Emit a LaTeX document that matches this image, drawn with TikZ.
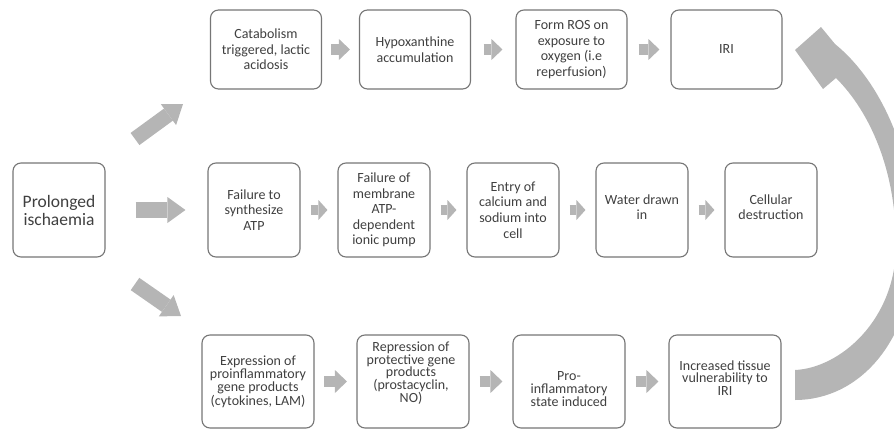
\documentclass[tikz,border=0pt]{standalone}
\usepackage{fontspec}
\setmainfont{Carlito}
\usetikzlibrary{arrows.meta}
\definecolor{boxgray}{HTML}{767676}
\definecolor{arrowgray}{HTML}{B5B5B5}
\definecolor{textgray}{HTML}{404040}
\tikzset{
  box/.style={draw=boxgray, line width=1.1pt, rounded corners=8pt, fill=white,
    align=center, text=textgray, inner sep=1pt, font=\fontsize{14}{15.6}\selectfont},
  topbox/.style={box, minimum width=111pt, minimum height=79pt},
  midbox/.style={box, minimum width=92pt, minimum height=94pt},
  botbox/.style={box, minimum width=112pt, minimum height=93pt},
  lsp/.style={font=\fontsize{14}{#1}\selectfont},
  txt/.style={align=center, text=textgray, inner sep=0pt},
  blk/.style n args={3}{draw=arrowgray, line width=#1,
    -{Triangle[length=#2, width=#3, line width=0pt, fill=arrowgray]}}
}
\begin{document}
\begin{tikzpicture}[x=1pt, y=-1pt]
\useasboundingbox (0,0) rectangle (894,431);
% top row
\node[topbox, lsp=15.5] (b1) at (266,49.5) {Catabolism\\triggered, lactic\\acidosis};
\node[topbox] (b2) at (415,49.5) {Hypoxanthine\\accumulation};
\node[topbox, lsp=15.5] (b3) at (571.5,49.5) {Form ROS on\\exposure to\\oxygen (i.e\\reperfusion)};
\node[topbox] (b4) at (726.5,49.5) {IRI};
% middle row
\node[midbox, font=\fontsize{17.5}{18}\selectfont] (p) at (59,210) {Prolonged\\ischaemia};
\node[midbox] (m1) at (254,210) {Failure to\\synthesize\\ATP};
\node[midbox] (m2) at (384,210) {Failure of\\membrane\\ATP-\\dependent\\ionic pump};
\node[midbox] (m3) at (513,210) {Entry of\\calcium and\\sodium into\\cell};
\node[midbox] (m4) at (642,210) {};
\node[txt, font=\fontsize{14}{15.6}\selectfont] (m4t) at (642,207) {Water drawn\\in};
\node[midbox] (m5) at (771,210) {};
\node[txt, font=\fontsize{14}{15.6}\selectfont] (m5t) at (771,207) {Cellular\\destruction};
% bottom row
\node[botbox, lsp=13.4] (c1) at (258,381.5) {Expression of\\proinflammatory\\gene products\\(cytokines, LAM)};
\node[botbox] (c2) at (413,381.5) {};
\node[txt, font=\fontsize{14}{12.8}\selectfont] (c2t) at (411,373) {Repression of\\protective gene\\products\\(prostacyclin,\\NO)};
\node[botbox] (c3) at (569,381.5) {};
\node[txt, font=\fontsize{14}{13.4}\selectfont] (c3t) at (569,389) {Pro-\\inflammatory\\state induced};
\node[botbox] (c4) at (725,381.5) {};
\node[txt, font=\fontsize{14}{12.6}\selectfont] (c4t) at (725,378) {Increased tissue\\vulnerability to\\IRI};
% small block arrows
\draw[blk={11pt}{11pt}{21pt}, shorten <=9pt, shorten >=9pt] (b1) -- (b2);
\draw[blk={11pt}{11pt}{21pt}, shorten <=12.5pt, shorten >=13pt] (b2) -- (b3);
\draw[blk={11pt}{11pt}{21pt}, shorten <=11pt, shorten >=11pt] (b3) -- (b4);
\draw[blk={16pt}{18pt}{26pt}, shorten <=30pt, shorten >=22pt] (p) -- (m1);
\draw[blk={10pt}{9pt}{20pt}, shorten <=10pt, shorten >=10pt] (m1) -- (m2);
\draw[blk={10pt}{9pt}{20pt}, shorten <=10pt, shorten >=10pt] (m2) -- (m3);
\draw[blk={10pt}{9pt}{20pt}, shorten <=10pt, shorten >=10pt] (m3) -- (m4);
\draw[blk={10pt}{9pt}{20pt}, shorten <=10pt, shorten >=10pt] (m4) -- (m5);
\draw[blk={11pt}{12pt}{23pt}, shorten <=9.5pt, shorten >=9.5pt] (c1) -- (c2);
\draw[blk={11pt}{12pt}{23pt}, shorten <=10pt, shorten >=10pt] (c2) -- (c3);
\draw[blk={11pt}{12pt}{23pt}, shorten <=10pt, shorten >=10pt] (c3) -- (c4);
% diagonal arrows
\coordinate (u1) at (135,139);
\coordinate (u2) at (183,104);
\coordinate (d1) at (135,284);
\coordinate (d2) at (181,316);
\draw[blk={15pt}{18pt}{26pt}] (u1) -- (u2);
\draw[blk={15pt}{18pt}{26pt}] (d1) -- (d2);
% curved return arrow
\begin{scope}
\clip (0,0) rectangle (894,431);
\fill[arrowgray] (795,370) .. controls (840,368) and (896,320) .. (896,245)
  .. controls (896,170) and (870,112) .. (836,78)
  -- (823,89) -- (795,50) -- (821,27) -- (835,44)
  .. controls (883,83) and (915,160) .. (915,240)
  .. controls (915,340) and (860,400) .. (795,400) -- cycle;
\end{scope}
\end{tikzpicture}
\end{document}
